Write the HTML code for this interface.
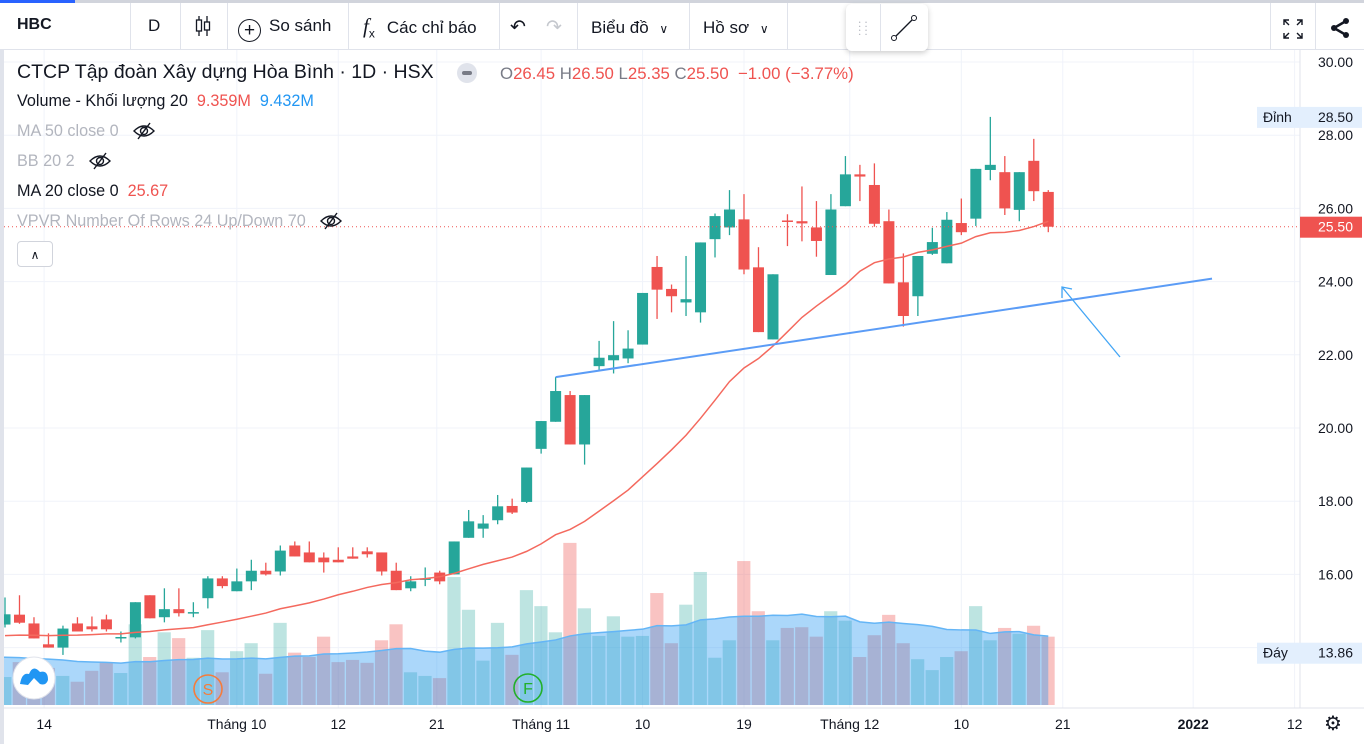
<!DOCTYPE html>
<html><head><meta charset="utf-8"><style>
html,body{margin:0;padding:0;background:#fff;width:1364px;height:744px;overflow:hidden}
svg{display:block;font-family:"Liberation Sans","Noto Sans CJK SC",sans-serif}
.eye{display:inline-block;vertical-align:-4px;margin-left:14px}
</style></head><body>
<svg id="root" width="1364" height="744" viewBox="0 0 1364 744">
<rect x="0" y="0" width="1364" height="744" fill="#fff"/>
<g id="grid"></g>
<g id="vol"></g>
<g id="candles"></g>
<g id="overlay"></g>
<g id="axes"></g>
</svg>
<script>
const opens=[14.63,14.9,14.66,14.09,14.0,14.66,14.58,14.77,14.27,14.28,15.43,14.83,15.05,14.95,15.35,15.89,15.54,15.81,16.1,16.08,16.79,16.6,16.46,16.4,16.49,16.63,16.6,16.1,15.62,15.88,16.05,16.0,17.0,17.25,17.48,17.87,17.98,19.43,20.17,20.9,19.55,21.69,21.85,21.9,22.28,24.4,23.8,23.43,23.16,25.16,25.48,25.7,24.39,22.42,25.67,25.65,25.48,24.18,26.06,26.93,26.64,25.65,23.98,23.6,24.76,24.5,25.6,25.72,27.05,26.99,25.96,27.3,26.45];
const highs=[15.37,15.43,14.83,14.39,14.6,14.83,14.85,14.9,14.44,15.24,15.43,15.62,15.62,15.24,15.95,15.95,16.16,16.4,16.32,16.79,16.9,16.9,16.6,16.74,16.74,16.74,16.6,16.32,15.95,16.19,16.1,16.9,17.76,17.62,18.17,18.07,18.92,20.19,21.39,21.01,20.9,22.38,22.92,22.67,23.69,24.7,23.92,24.7,25.07,25.86,26.5,26.39,24.94,24.2,25.84,26.6,26.2,26.39,27.43,27.19,27.23,25.97,24.77,24.7,25.47,25.9,26.27,27.08,28.5,27.43,26.99,27.9,26.5];
const lows=[14.55,14.65,14.25,14.0,13.8,14.44,14.44,14.44,14.14,14.25,14.8,14.69,14.85,14.83,15.07,15.62,15.54,15.57,15.97,15.97,16.49,16.33,16.05,16.33,16.43,16.46,15.97,15.57,15.54,15.68,15.73,16.0,17.0,17.0,17.37,17.65,17.95,19.3,20.17,19.55,19.0,21.56,21.49,21.77,22.28,22.98,23.16,23.06,22.88,24.66,25.27,24.2,22.62,22.42,24.97,25.1,24.68,24.18,26.06,26.2,25.5,23.95,22.77,23.06,24.73,24.5,25.27,25.52,26.77,25.82,25.65,26.2,25.35];
const closes=[14.91,14.68,14.25,14.0,14.52,14.44,14.5,14.5,14.29,15.24,14.8,15.05,14.94,14.97,15.89,15.68,15.81,16.1,16.0,16.65,16.49,16.33,16.33,16.33,16.43,16.55,16.08,15.57,15.81,15.89,15.81,16.9,17.45,17.39,17.86,17.69,18.92,20.19,21.01,19.55,20.9,21.92,21.99,22.17,23.69,23.78,23.6,23.52,25.07,25.79,25.97,24.33,22.62,24.2,25.64,25.59,25.11,25.97,26.93,26.87,25.58,23.95,23.06,24.7,25.08,25.69,25.35,27.08,27.19,26.0,26.99,26.47,25.5];
const volumes=[3.85,5.9,4.4,5.1,4.0,3.2,4.7,5.9,4.4,11.1,6.6,10.0,9.2,6.5,10.3,4.5,7.4,8.5,4.3,11.3,7.2,6.6,9.4,5.9,6.2,5.8,8.9,11.1,4.5,4.0,3.7,17.6,13.1,6.1,11.3,6.9,15.8,13.6,10.0,22.3,13.3,9.5,12.2,9.4,9.5,15.4,8.5,13.8,18.3,6.5,8.9,19.8,12.9,8.9,10.6,10.7,9.4,12.9,11.6,6.6,9.6,12.4,8.5,6.3,4.8,6.6,7.4,13.6,8.9,10.6,9.8,10.9,9.4];
const closePrior=[14.4,14.3,14.2,14.3,14.4,14.2,14.1,14.3,14.4,14.3,14.2,14.3,14.4,14.3,14.2,14.3,14.4,14.3,14.3];
const volPrior=[6.8,7.0,6.5,6.6,7.2,6.3,6.8,6.4,6.9,7.1,6.5,6.7,6.2,6.6,7.0,6.8,6.5,6.6,6.9];
const priceTicks=[30,28,26,24,22,20,18,16];
const timeTickIdx=[2.7,16,23,29.8,37,44,51,58.3,66,73,82,89];
const timeTickLabels=["14","Tháng 10","12","21","Tháng 11","10","19","Tháng 12","10","21","2022","12"];
const trendFrom=[38,21.39], trendTo=[83.3,24.08];

const NS="http://www.w3.org/2000/svg";
const X=i=>5+i*14.49;
const Y=p=>62+(30-p)*36.6;
const VY=v=>705-v*7.27;
function mk(tag,attrs,parent,text){const e=document.createElementNS(NS,tag);for(const k in attrs)e.setAttribute(k,attrs[k]);if(text!==undefined)e.textContent=text;parent.appendChild(e);return e;}
const grid=document.getElementById('grid'),volG=document.getElementById('vol'),cg=document.getElementById('candles'),ov=document.getElementById('overlay'),ax=document.getElementById('axes');

for(let p=30;p>=14;p-=2){const l=mk('line',{x1:0,x2:1300,y1:Y(p),y2:Y(p),stroke:'#f0f3fa','stroke-width':1},grid);

}
timeTickIdx.forEach(t=>{const l=mk('line',{x1:X(t),x2:X(t),y1:50,y2:708,stroke:'#f0f3fa','stroke-width':1},grid);

});

volumes.forEach((v,i)=>{const up=closes[i]>=opens[i];
const r=mk('rect',{x:X(i)-6.8,y:VY(v),width:13.2,height:705-VY(v),fill:up?'rgba(38,166,154,0.3)':'rgba(239,83,80,0.35)'},volG);

});
const allV=volPrior.concat(volumes);let vma=[];
for(let i=0;i<volumes.length;i++){let s=0;for(let k=0;k<20;k++)s+=allV[i+volPrior.length-k];vma.push(s/20);}
let d='M0,705 L0,'+VY(vma[0]);vma.forEach((m,i)=>d+=' L'+X(i)+','+VY(m));d+=' L'+X(vma.length-1)+',705 Z';
const va=mk('path',{d:d,fill:'rgba(33,150,243,0.38)'},volG);


let dl='M0,'+VY(vma[0]);vma.forEach((m,i)=>dl+=' L'+X(i)+','+VY(m));
const vl=mk('path',{d:dl,fill:'none',stroke:'#64b5f6','stroke-width':1.5},volG);



const allC=closePrior.concat(closes);let ma='';
closes.forEach((c,i)=>{let s=0;for(let k=0;k<20;k++)s+=allC[i+closePrior.length-k];ma+=(i?' L':'M')+X(i)+','+Y(s/20);});
const mal=mk('path',{d:ma,fill:'none',stroke:'#f4695e','stroke-width':1.5},ov);



closes.forEach((c,i)=>{const o=opens[i],up=c>=o,col=up?'#26a69a':'#ef5350';
const g=mk('g',{},cg);


mk('line',{x1:X(i),x2:X(i),y1:Y(highs[i]),y2:Y(lows[i]),stroke:col,'stroke-width':1.3},g);
const t=Y(Math.max(o,c)),b=Y(Math.min(o,c));
mk('rect',{x:X(i)-5.5,y:t,width:11,height:Math.max(1.5,b-t),fill:col},g);});

const lp=closes[closes.length-1];
const dot=mk('line',{x1:0,x2:1300,y1:Y(lp),y2:Y(lp),stroke:'#ef5350','stroke-width':1,'stroke-dasharray':'1 3'},ov);


const tl=mk('line',{x1:X(trendFrom[0]),y1:Y(trendFrom[1]),x2:X(trendTo[0]),y2:Y(trendTo[1]),stroke:'#5b9cf6','stroke-width':2},ov);


const ar=mk('g',{stroke:'#42a5f5','stroke-width':1.3,fill:'none'},ov);


mk('line',{x1:1120,y1:357,x2:1062,y2:287},ar);
mk('path',{d:'M1062,298 L1062,287 L1072,289'},ar);

const lg=mk('g',{},ov);


mk('circle',{cx:34,cy:678,r:21,fill:'#fff',stroke:'#e0e3eb'},lg);
mk('path',{d:'M20,684 Q22,672 29,674 Q33,664 40,672 Q48,670 48,680 Q46,686 40,684 L34,678 L28,685 Z',fill:'#2196f3'},lg);
const sm=mk('g',{},ov);


mk('circle',{cx:208,cy:689,r:14,fill:'none',stroke:'#f57c3c','stroke-width':1.6},sm);
mk('text',{x:208,y:695,'text-anchor':'middle','font-size':16,fill:'#f57c3c'},sm,'S');
const fm=mk('g',{},ov);


mk('circle',{cx:528,cy:688,r:14,fill:'none',stroke:'#22b02a','stroke-width':1.6},fm);
mk('text',{x:528,y:694,'text-anchor':'middle','font-size':16,fill:'#22b02a'},fm,'F');

mk('rect',{x:1300,y:50,width:64,height:658,fill:'#fff'},ax);
mk('line',{x1:1300,x2:1300,y1:50,y2:708,stroke:'#e0e3eb'},ax);
mk('rect',{x:0,y:708,width:1364,height:36,fill:'#fff'},ax);
mk('line',{x1:0,x2:1364,y1:708,y2:708,stroke:'#e0e3eb'},ax);
priceTicks.forEach(p=>{const t=mk('text',{x:1353,y:Y(p)+5,'text-anchor':'end','font-size':14,fill:'#131722'},ax,p.toFixed(2));

});
timeTickIdx.forEach((t,k)=>{const e=mk('text',{x:X(t),y:729,'text-anchor':'middle','font-size':14,fill:'#131722','font-weight':timeTickLabels[k]==='2022'?'bold':'normal'},ax,timeTickLabels[k]);

});
function badge(y,label,val,bg,fg,x0,name){const g=mk('g',{},ax);


mk('rect',{x:x0,y:y-10,width:1362-x0,height:21,fill:bg},g);
if(label)mk('text',{x:x0+6,y:y+5,'font-size':14,fill:'#131722'},g,label);
mk('text',{x:1353,y:y+5,'text-anchor':'end','font-size':14,fill:fg},g,val);}
badge(Y(28.5),'Đỉnh','28.50','#e3effd','#131722',1257,'high-label');
badge(Y(13.86),'Đáy','13.86','#e3effd','#131722',1257,'low-label');
badge(Y(lp),'','25.50','#ef5350','#fff',1300,'last-price-label');
const gear=mk('text',{x:1333,y:730,'text-anchor':'middle','font-size':20,fill:'#131722'},ax,'⚙');


</script>
<div style="position:absolute;left:0;top:0;width:1364px;height:50px;background:#fff;border-bottom:1px solid #e0e3eb;border-top:3px solid #d1d4dc;box-sizing:border-box;font-family:'Liberation Sans',sans-serif;font-size:17px;color:#131722">
<div style="position:absolute;left:0;top:-3px;width:75px;height:3px;background:#2962ff"></div>
<span style="position:absolute;left:17px;top:13px;font-weight:bold;font-size:16px">HBC</span>
<span style="position:absolute;left:148px;top:13px">D</span>
<svg style="position:absolute;left:193px;top:12px" width="20" height="22"><path d="M6 1V21M14 1V21" stroke="#131722" stroke-width="1.3"/><rect x="3.5" y="5" width="5" height="11" fill="#fff" stroke="#131722" stroke-width="1.3"/><rect x="11.5" y="7" width="5" height="8" fill="#fff" stroke="#131722" stroke-width="1.3"/></svg>
<span style="position:absolute;left:238px;top:13px"><span style="display:inline-block;width:23px;height:23px;border:1.5px solid #131722;border-radius:50%;text-align:center;line-height:21px;margin-right:8px;box-sizing:border-box;vertical-align:-5px;font-size:19px">+</span>So sánh</span>
<span style="position:absolute;left:363px;top:11px"><i style="font-family:'Liberation Serif',serif;font-size:21px">f</i><sub style="font-size:12px">x</sub><span style="margin-left:12px">Các chỉ báo</span></span>
<span style="position:absolute;left:510px;top:13px;font-size:19px">&#x21B6;</span>
<span style="position:absolute;left:546px;top:13px;font-size:19px;color:#c5c8ce">&#x21B7;</span>
<span style="position:absolute;left:591px;top:15px">Biểu đồ <span style="font-size:12px;margin-left:6px">&#x2228;</span></span>
<span style="position:absolute;left:703px;top:15px">Hồ sơ <span style="font-size:12px;margin-left:6px">&#x2228;</span></span>
<div style="position:absolute;left:130px;top:0;width:1px;height:47px;background:#e0e3eb"></div>
<div style="position:absolute;left:180px;top:0;width:1px;height:47px;background:#e0e3eb"></div>
<div style="position:absolute;left:227px;top:0;width:1px;height:47px;background:#e0e3eb"></div>
<div style="position:absolute;left:348px;top:0;width:1px;height:47px;background:#e0e3eb"></div>
<div style="position:absolute;left:499px;top:0;width:1px;height:47px;background:#e0e3eb"></div>
<div style="position:absolute;left:577px;top:0;width:1px;height:47px;background:#e0e3eb"></div>
<div style="position:absolute;left:689px;top:0;width:1px;height:47px;background:#e0e3eb"></div>
<div style="position:absolute;left:787px;top:0;width:1px;height:47px;background:#e0e3eb"></div>
<div style="position:absolute;left:1270px;top:0;width:1px;height:47px;background:#e0e3eb"></div>
<div style="position:absolute;left:1315px;top:0;width:1px;height:47px;background:#e0e3eb"></div>
<svg style="position:absolute;left:1282px;top:15px" width="22" height="22" fill="none" stroke="#131722" stroke-width="1.4"><path d="M2 7V2H7M2 2L7 7M15 2H20V7M20 2L15 7M2 15V20H7M2 20L7 15M20 15V20H15M20 20L15 15"/></svg>
<svg style="position:absolute;left:1330px;top:15px" width="20" height="20"><circle cx="16" cy="3" r="3" fill="#131722"/><circle cx="16" cy="17" r="3" fill="#131722"/><circle cx="4" cy="10" r="3" fill="#131722"/><path d="M16 3 L4 10 L16 17" stroke="#131722" stroke-width="2.5" fill="none"/></svg>
</div>
<div style="position:absolute;left:846px;top:4px;width:82px;height:47px;background:#fff;border-radius:6px;box-shadow:0 2px 6px rgba(0,0,0,0.2)">
<span style="position:absolute;left:12px;top:15px;color:#b2b5be;font-size:12px;line-height:8px">: :<br>: :</span>
<div style="position:absolute;left:34px;top:0;width:1px;height:47px;background:#e0e3eb"></div>
<svg style="position:absolute;left:44px;top:10px" width="28" height="28"><path d="M4 24 L24 4" stroke="#131722" stroke-width="1.3"/><circle cx="4" cy="24" r="2.5" fill="#fff" stroke="#131722"/><circle cx="24" cy="4" r="2.5" fill="#fff" stroke="#131722"/></svg>
</div>
<div style="position:absolute;left:0;top:50px;width:4px;height:694px;background:#e0e3eb"></div>
<div style="position:absolute;left:17px;top:60px;font-family:'Liberation Sans',sans-serif;color:#131722;white-space:nowrap">
<div style="position:absolute;top:1px;font-size:19.5px">CTCP Tập đoàn Xây dựng Hòa Bình · 1D · HSX</div>
<div style="position:absolute;left:440px;top:3px;width:20px;height:20px;border-radius:50%;background:#e0e3eb"><div style="margin:8px 5px;width:10px;height:4px;background:#787b86;border-radius:2px"></div></div>
<div style="position:absolute;left:483px;top:4px;font-size:16.8px;color:#ef5350"><span style="color:#787b86">O</span>26.45 <span style="color:#787b86">H</span>26.50 <span style="color:#787b86">L</span>25.35 <span style="color:#787b86">C</span>25.50 &nbsp;−1.00 (−3.77%)</div>
<div style="position:absolute;top:32px;font-size:16.2px">Volume - Khối lượng 20 &nbsp;<span style="color:#ef5350">9.359M</span> &nbsp;<span style="color:#2196f3">9.432M</span></div>
<div style="position:absolute;top:62px;font-size:16.2px;color:#b2b5be">MA 50 close 0<svg class="eye" width="22" height="18" fill="none" stroke="#131722" stroke-width="1.4"><path d="M1 9Q11 -1 21 9Q11 19 1 9Z"/><circle cx="11" cy="9" r="3.5"/><path d="M5 17L17 1"/></svg></div>
<div style="position:absolute;top:92px;font-size:16.2px;color:#b2b5be">BB 20 2<svg class="eye" width="22" height="18" fill="none" stroke="#131722" stroke-width="1.4"><path d="M1 9Q11 -1 21 9Q11 19 1 9Z"/><circle cx="11" cy="9" r="3.5"/><path d="M5 17L17 1"/></svg></div>
<div style="position:absolute;top:122px;font-size:16.2px">MA 20 close 0 &nbsp;<span style="color:#ef5350">25.67</span></div>
<div style="position:absolute;top:152px;font-size:16.2px;color:#b2b5be">VPVR Number Of Rows 24 Up/Down 70<svg class="eye" width="22" height="18" fill="none" stroke="#131722" stroke-width="1.4"><path d="M1 9Q11 -1 21 9Q11 19 1 9Z"/><circle cx="11" cy="9" r="3.5"/><path d="M5 17L17 1"/></svg></div>
<div style="position:absolute;top:181px;left:0;width:34px;height:24px;border:1px solid #d1d4dc;border-radius:4px;background:#fff;text-align:center;font-size:12px;line-height:26px">&#x2227;</div>
</div>
</body></html>
